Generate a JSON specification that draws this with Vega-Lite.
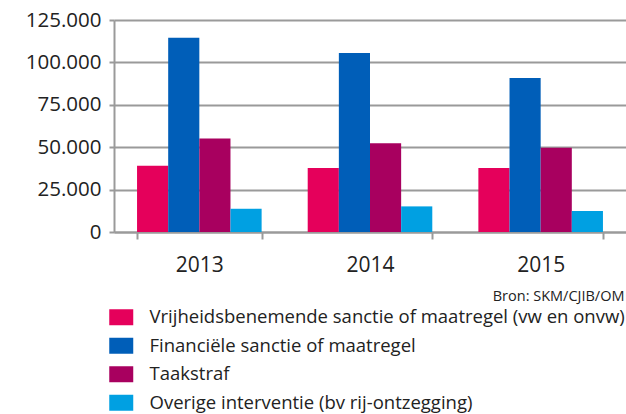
{
  "$schema": "https://vega.github.io/schema/vega-lite/v6.json",
  "width": 512,
  "height": 212,
  "autosize": "none",
  "padding": {"left": 114, "top": 20, "right": 0, "bottom": 182},
  "background": "white",
  "config": {
    "locale": {"number": {"decimal": ",", "thousands": ".", "grouping": [3], "currency": ["€", ""]}},
    "font": "Open Sans",
    "view": {"stroke": null}
  },
  "data": {
    "values": [
      {"jaar": "2013", "categorie": "Vrijheidsbenemende sanctie of maatregel (vw en onvw)", "waarde": 39100},
      {"jaar": "2013", "categorie": "Financiële sanctie of maatregel", "waarde": 114600},
      {"jaar": "2013", "categorie": "Taakstraf", "waarde": 55200},
      {"jaar": "2013", "categorie": "Overige interventie (bv rij-ontzegging)", "waarde": 13700},
      {"jaar": "2014", "categorie": "Vrijheidsbenemende sanctie of maatregel (vw en onvw)", "waarde": 37800},
      {"jaar": "2014", "categorie": "Financiële sanctie of maatregel", "waarde": 105500},
      {"jaar": "2014", "categorie": "Taakstraf", "waarde": 52300},
      {"jaar": "2014", "categorie": "Overige interventie (bv rij-ontzegging)", "waarde": 15100},
      {"jaar": "2015", "categorie": "Vrijheidsbenemende sanctie of maatregel (vw en onvw)", "waarde": 37800},
      {"jaar": "2015", "categorie": "Financiële sanctie of maatregel", "waarde": 90800},
      {"jaar": "2015", "categorie": "Taakstraf", "waarde": 49700},
      {"jaar": "2015", "categorie": "Overige interventie (bv rij-ontzegging)", "waarde": 12400}
    ]
  },
  "mark": {"type": "bar"},
  "encoding": {
    "x": {
      "field": "jaar",
      "type": "nominal",
      "scale": {"paddingInner": 0.27, "paddingOuter": 0.135},
      "axis": {
        "title": "Bron: SKM/CJIB/OM",
        "titleAnchor": "end",
        "titleAlign": "right",
        "titleFontSize": 14.5,
        "titleFontWeight": "normal",
        "titleColor": "#222222",
        "titlePadding": 14,
        "titleX": 510,
        "labelAngle": 0,
        "labelFontSize": 21,
        "labelColor": "#222222",
        "labelPadding": 15,
        "ticks": true,
        "tickBand": "extent",
        "tickSize": 7,
        "tickWidth": 2,
        "tickColor": "#9a9a9a",
        "domainColor": "#9a9a9a",
        "domainWidth": 2
      }
    },
    "xOffset": {
      "field": "categorie",
      "type": "nominal",
      "sort": ["Vrijheidsbenemende sanctie of maatregel (vw en onvw)", "Financiële sanctie of maatregel", "Taakstraf", "Overige interventie (bv rij-ontzegging)"],
      "scale": {"paddingInner": 0, "paddingOuter": 0}
    },
    "y": {
      "field": "waarde",
      "type": "quantitative",
      "scale": {"domain": [0, 125000], "nice": false},
      "axis": {
        "title": null,
        "values": [0, 25000, 50000, 75000, 100000, 125000],
        "format": ",d",
        "labelFontSize": 20.5,
        "labelColor": "#222222",
        "labelPadding": 8,
        "tickSize": 5,
        "tickWidth": 2,
        "tickColor": "#9a9a9a",
        "grid": true,
        "gridColor": "#9a9a9a",
        "gridWidth": 2,
        "domainColor": "#9a9a9a",
        "domainWidth": 2
      }
    },
    "color": {
      "field": "categorie",
      "type": "nominal",
      "scale": {
        "domain": ["Vrijheidsbenemende sanctie of maatregel (vw en onvw)", "Financiële sanctie of maatregel", "Taakstraf", "Overige interventie (bv rij-ontzegging)"],
        "range": ["#e5005b", "#005eb8", "#a8005f", "#00a0e2"]
      },
      "legend": {
        "title": null,
        "orient": "none",
        "legendX": -2,
        "legendY": 288,
        "padding": 0,
        "symbolType": "M-1.5,-1H1.5V1H-1.5Z",
        "symbolSize": 256,
        "symbolStrokeWidth": 0,
        "symbolOpacity": 1,
        "labelFontSize": 18.5,
        "labelColor": "#222222",
        "labelOffset": 19,
        "labelLimit": 600,
        "rowPadding": 9.5
      }
    }
  }
}
